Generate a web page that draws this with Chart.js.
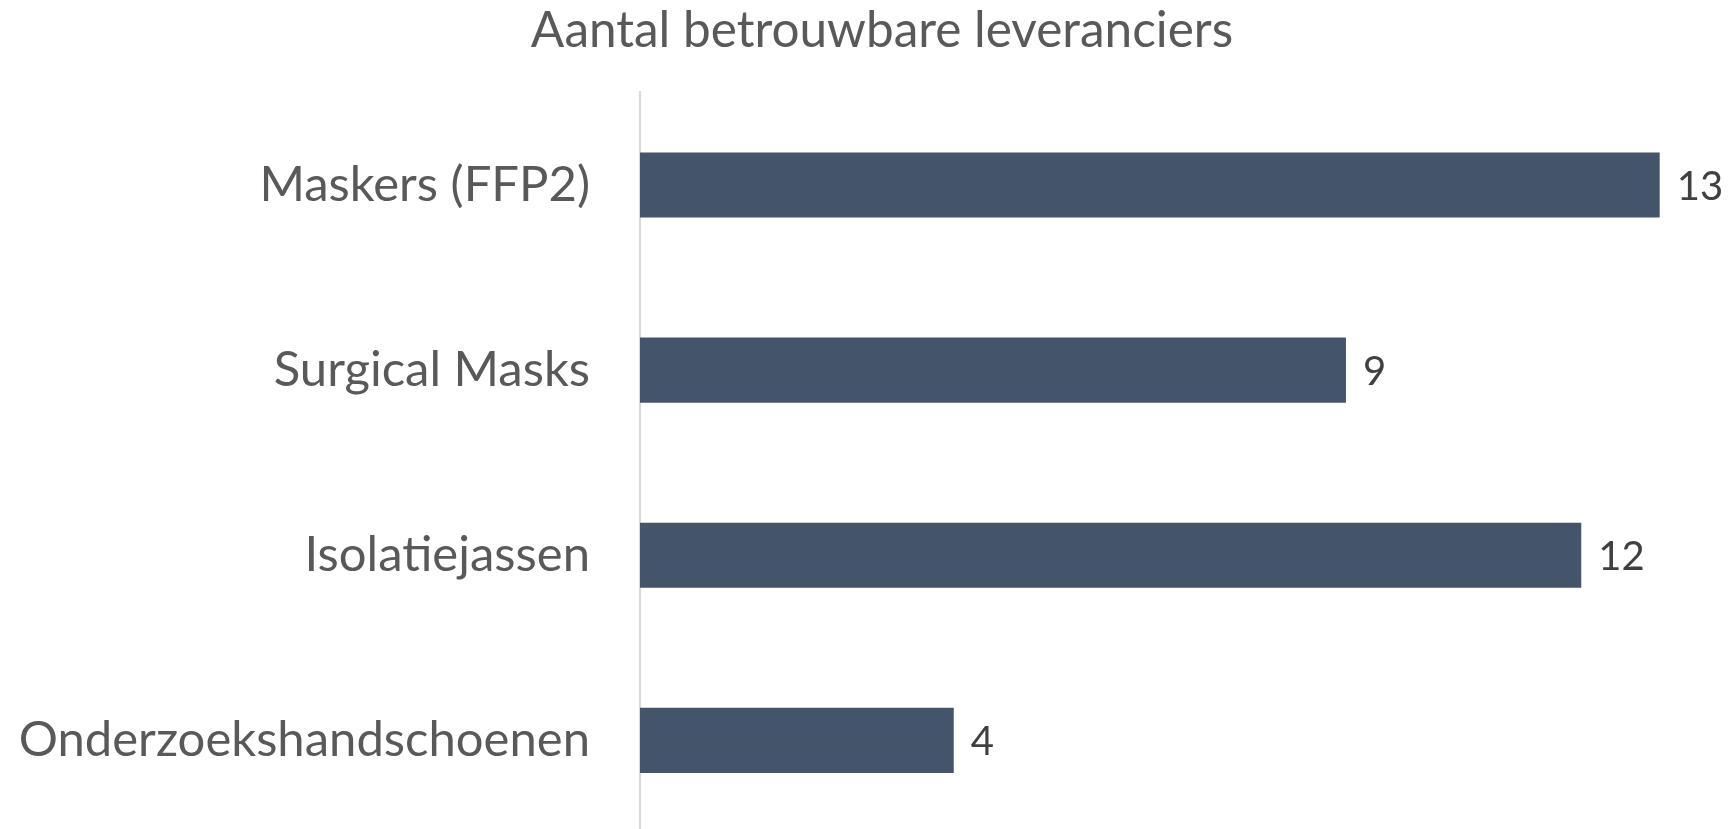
<!DOCTYPE html>
<html>
<head>
<meta charset="utf-8">
<script src="https://cdn.jsdelivr.net/npm/chart.js@4"></script>
<style>
  html, body { margin: 0; padding: 0; background: #fff; overflow: hidden; }
  canvas { display: block; }
</style>
</head>
<body>
<canvas id="myChart" width="1764" height="833"></canvas>
<script>
const titleText = 'Aantal betrouwbare leveranciers';
const categories = ['Maskers (FFP2)', 'Surgical Masks', 'Isolatiejassen', 'Onderzoekshandschoenen'];
const values = [13, 9, 12, 4];
const xMax = 14.33;

const FONT = 'Lato, "Open Sans", sans-serif';

// draws the number just right of each bar
const valueLabels = {
    id: 'valueLabels',
    afterDatasetsDraw(chart) {
        const ctx = chart.ctx;
        const meta = chart.getDatasetMeta(0);
        ctx.save();
        ctx.font = '40px ' + FONT;
        ctx.fillStyle = '#404040';
        ctx.textAlign = 'left';
        ctx.textBaseline = 'middle';
        meta.data.forEach((bar, i) => {
            ctx.fillText(String(values[i]), bar.x + 17, bar.y + 2);
        });
        ctx.restore();
    }
};

let ctx = document.getElementById('myChart');

let myChart = new Chart(ctx, {
    type: 'bar',
    data: {
        labels: categories,
        datasets: [{
            data: values,
            backgroundColor: '#44546A',
            borderWidth: 0,
            categoryPercentage: 1,
            barPercentage: 0.352
        }]
    },
    plugins: [valueLabels],
    options: {
        indexAxis: 'y',
        responsive: false,
        animation: false,
        layout: { padding: 0 },
        plugins: {
            legend: { display: false },
            tooltip: { enabled: false },
            title: {
                display: true,
                text: titleText,
                color: '#595959',
                font: { family: FONT, size: 49.5, weight: 'normal', lineHeight: 1.2 },
                padding: { top: 1, bottom: 32 }
            }
        },
        scales: {
            x: {
                display: false,
                min: 0,
                max: xMax
            },
            y: {
                grid: { display: false, drawTicks: false },
                border: { display: true, color: '#D9D9D9', width: 2 },
                ticks: {
                    color: '#595959',
                    padding: 50,
                    font: { family: FONT, size: 49 }
                },
                afterFit(scale) {
                    scale.width = 640;
                    // labels sit mid-category, no extra room needed above/below
                    scale.paddingTop = 0;
                    scale.paddingBottom = 0;
                }
            }
        }
    }
});
</script>
</body>
</html>
